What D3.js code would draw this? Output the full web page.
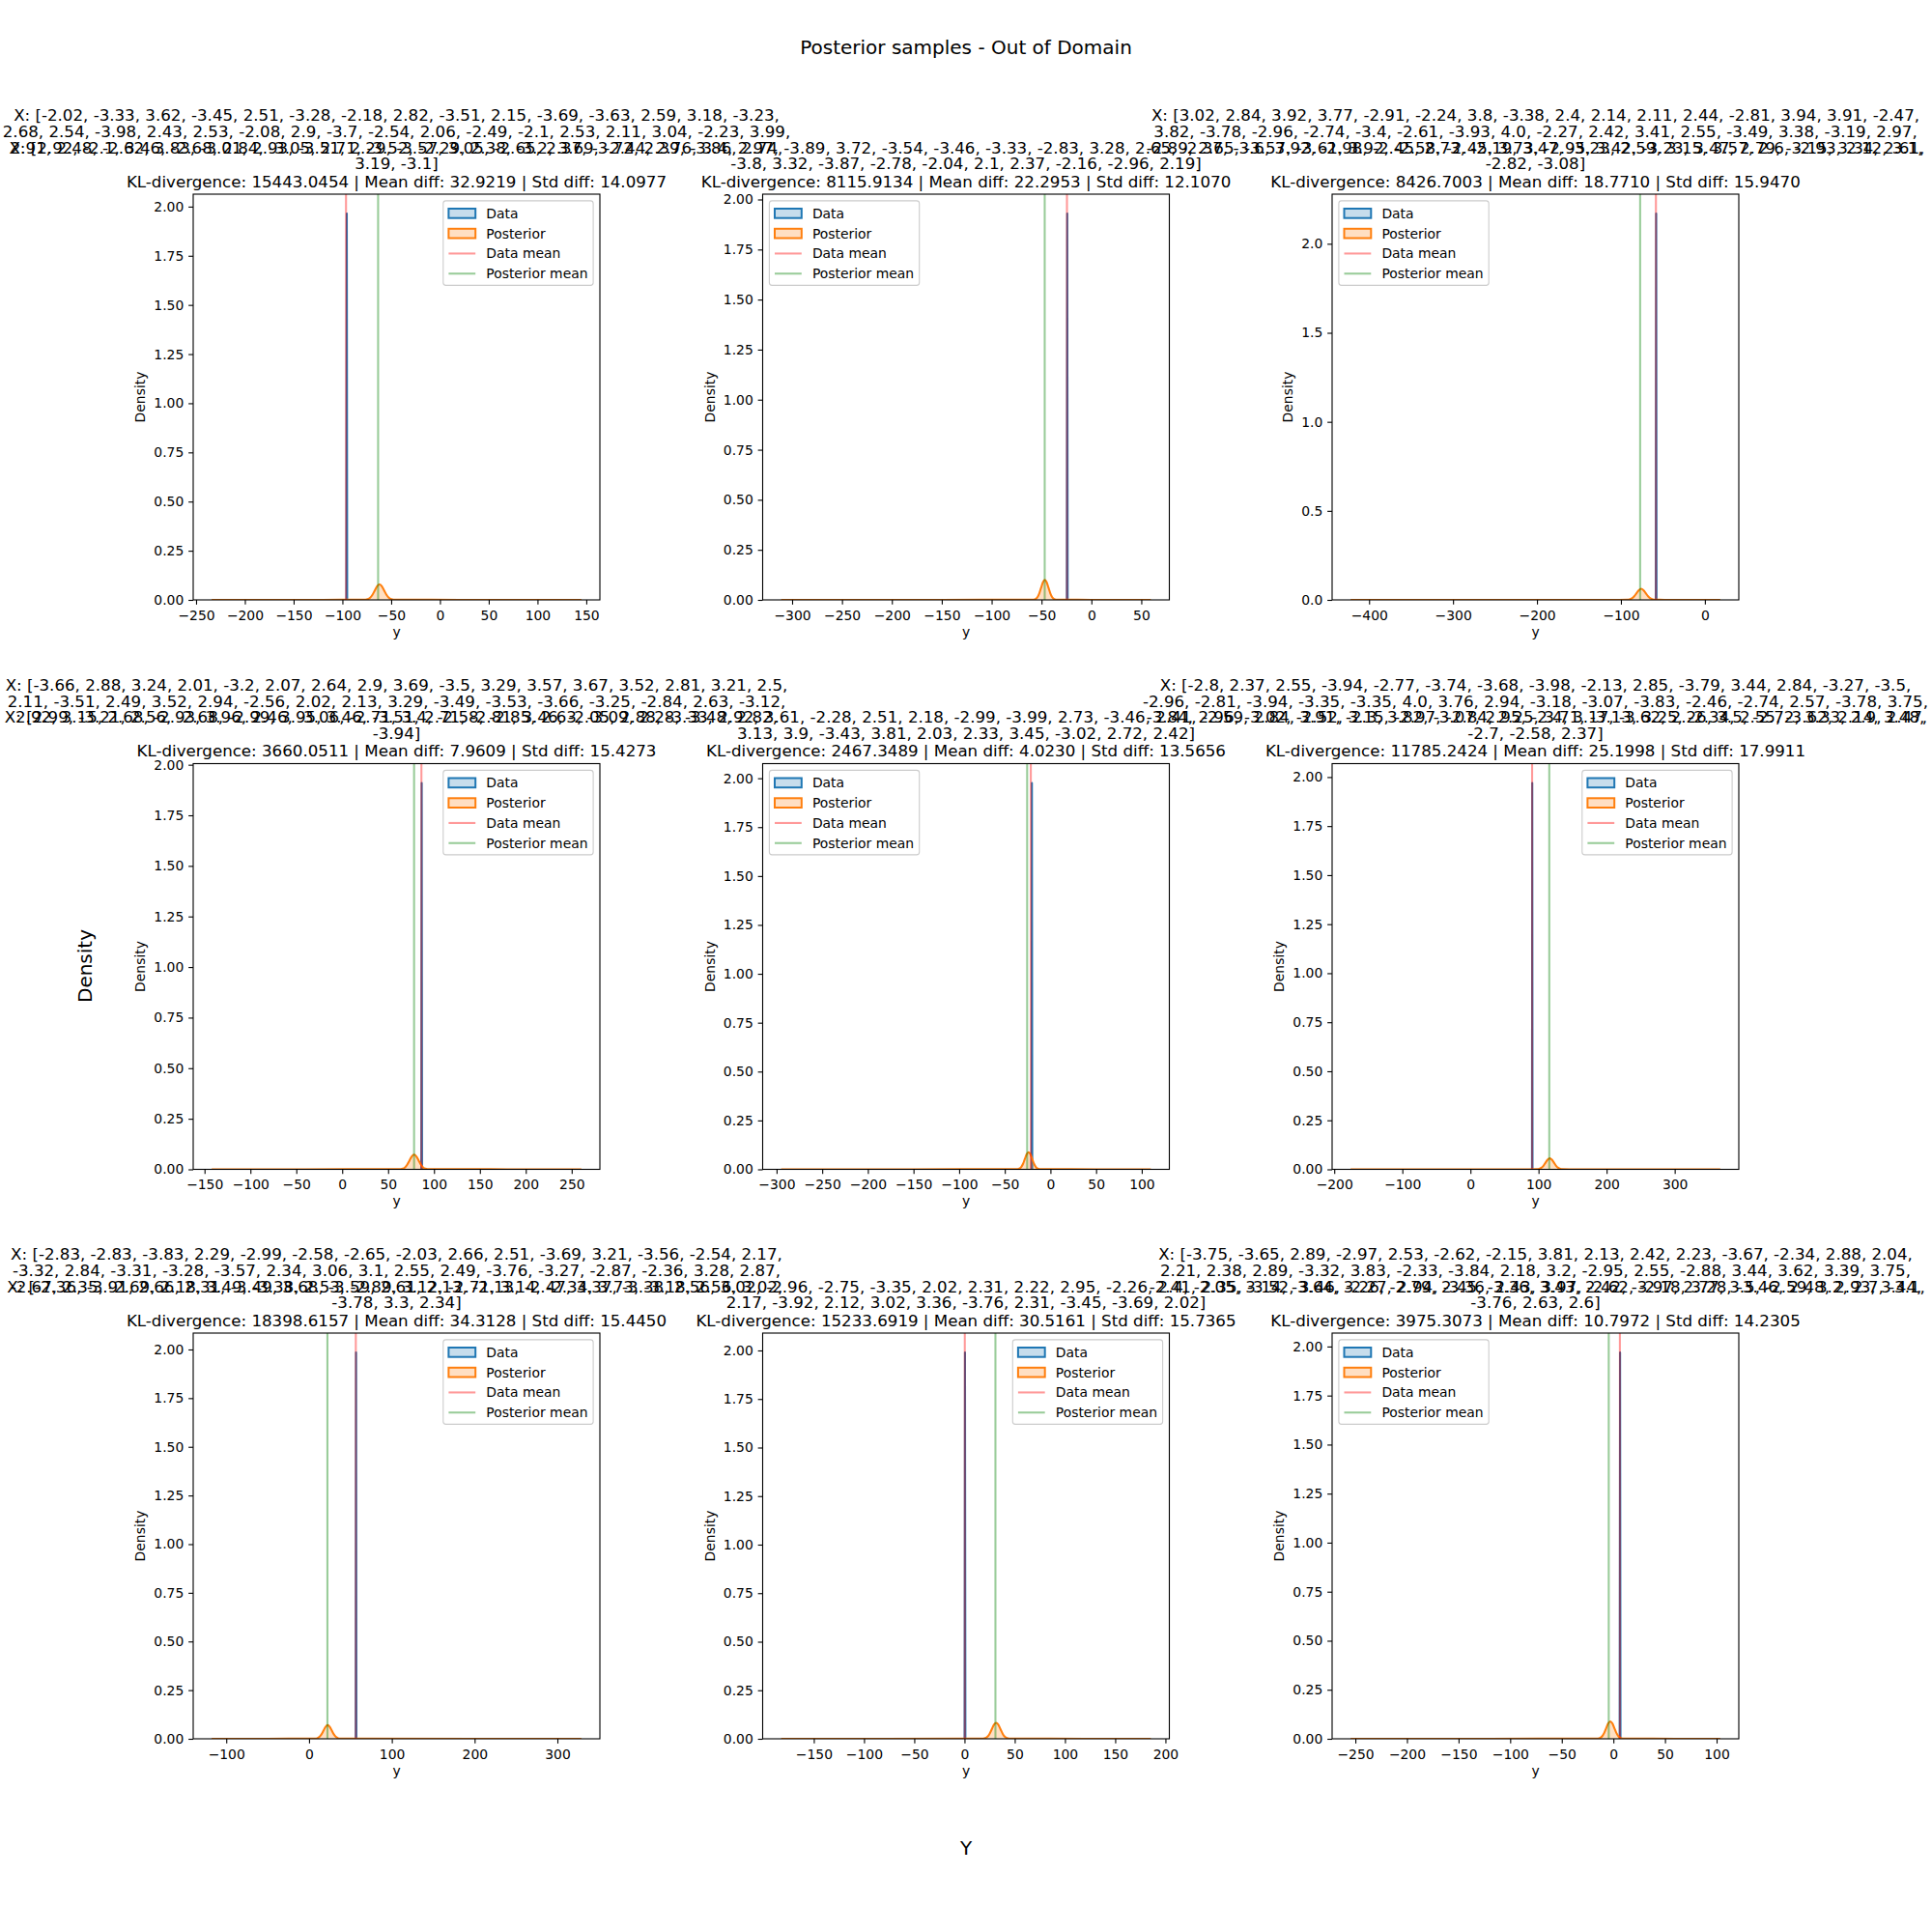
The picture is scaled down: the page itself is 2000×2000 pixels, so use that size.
<!DOCTYPE html>
<html><head><meta charset="utf-8">
<script src="https://cdn.jsdelivr.net/npm/d3@7"></script>
<style>
body{margin:0;background:#fff}
svg{display:block}
text{font-family:"DejaVu Sans",sans-serif}
</style>
</head><body>
<svg id="chart" width="2000" height="2000"></svg>
<script>
// ---------------- DATA ----------------
const figureTitle = "Posterior samples - Out of Domain";
const supXLabel = "Y";
const supYLabel = "Density";
const seriesNames = ["Data", "Posterior", "Data mean", "Posterior mean"];
const axisXLabel = "y";
const axisYLabel = "Density";

const titleS1 = [
  "X: [-2.02, -3.33, 3.62, -3.45, 2.51, -3.28, -2.18, 2.82, -3.51, 2.15, -3.69, -3.63, 2.59, 3.18, -3.23,",
  "2.68, 2.54, -3.98, 2.43, 2.53, -2.08, 2.9, -3.7, -2.54, 2.06, -2.49, -2.1, 2.53, 2.11, 3.04, -2.23, 3.99,",
  "2.91, 2.48, -2.62, 3.83, -3.01, 2.93, -3.51, 2.29, -3.57, 3.05, -2.65, 2.37, -3.72, 2.39, -3.86, 2.74,",
  "3.19, -3.1]"];
const titleS2 = [
  "X: [2.92, -2.1, 3.46, -2.68, 2.84, -3.05, 2.71, -3.52, -2.29, 2.38, -3.2, 3.69, -2.44, 2.76, 3.4, 2.97, -3.89, 3.72, -3.54, -3.46, -3.33, -2.83, 3.28, 2.65, -2.37, -3.6, 3.92, -2.98, -2.45, 2.73, -2.19, 3.47, -3.23, 2.59, 3.15, 3.57, 2.6, -2.93, 2.12, 3.1,",
  "-3.8, 3.32, -3.87, -2.78, -2.04, 2.1, 2.37, -2.16, -2.96, 2.19]"];
const titleS3 = [
  "X: [3.02, 2.84, 3.92, 3.77, -2.91, -2.24, 3.8, -3.38, 2.4, 2.14, 2.11, 2.44, -2.81, 3.94, 3.91, -2.47,",
  "3.82, -3.78, -2.96, -2.74, -3.4, -2.61, -3.93, 4.0, -2.27, 2.42, 3.41, 2.55, -3.49, 3.38, -3.19, 2.97,",
  "-2.89, 2.65, -3.57, -3.61, 3.92, -2.58, -2.45, 3.73, -2.95, 3.42, -3.23, 3.47, 2.79, -3.15, 3.34, 2.61,",
  "-2.82, -3.08]"];
const titleS4 = [
  "X: [-3.66, 2.88, 3.24, 2.01, -3.2, 2.07, 2.64, 2.9, 3.69, -3.5, 3.29, 3.57, 3.67, 3.52, 2.81, 3.21, 2.5,",
  "2.11, -3.51, 2.49, 3.52, 2.94, -2.56, 2.02, 2.13, 3.29, -3.49, -3.53, -3.66, -3.25, -2.84, 2.63, -3.12,",
  "2.92, 3.15, 2.68, -2.93, 3.96, 2.46, -3.06, -2.71, 3.4, -2.58, -2.85, 2.63, -3.09, 2.28, -3.48, 2.82,",
  "-3.94]"];
const titleS5 = [
  "X: [2.99, -3.21, 2.56, -2.68, -2.99, 3.95, 3.46, -3.51, 2.71, -2.81, 3.46, -2.05, 2.88, -3.33, 2.92, 3.61, -2.28, 2.51, 2.18, -2.99, -3.99, 2.73, -3.46, 2.41, -2.59, 2.84, 3.91, -2.3, 3.82, -3.07, 2.95, -2.4, 3.17, -3.62, 2.26, 3.5, -2.72, 3.33, 2.9, 2.47,",
  "3.13, 3.9, -3.43, 3.81, 2.03, 2.33, 3.45, -3.02, 2.72, 2.42]"];
const titleS6 = [
  "X: [-2.8, 2.37, 2.55, -3.94, -2.77, -3.74, -3.68, -3.98, -2.13, 2.85, -3.79, 3.44, 2.84, -3.27, -3.5,",
  "-2.96, -2.81, -3.94, -3.35, -3.35, 4.0, 3.76, 2.94, -3.18, -3.07, -3.83, -2.46, -2.74, 2.57, -3.78, 3.75,",
  "-3.84, 2.96, -3.02, -2.52, 3.15, -2.97, -2.84, 2.25, 3.71, -3.13, 3.25, -2.34, 2.55, -3.62, 2.14, 3.48,",
  "-2.7, -2.58, 2.37]"];
const titleS7 = [
  "X: [-2.83, -2.83, -3.83, 2.29, -2.99, -2.58, -2.65, -2.03, 2.66, 2.51, -3.69, 3.21, -3.56, -2.54, 2.17,",
  "-3.32, 2.84, -3.31, -3.28, -3.57, 2.34, 3.06, 3.1, 2.55, 2.49, -3.76, -3.27, -2.87, -2.36, 3.28, 2.87,",
  "-2.67, 2.35, -2.69, 2.18, 3.49, -3.38, 2.53, -2.89, 3.12, -2.71, 3.14, -2.34, 3.73, -3.18, 2.56, 3.02,",
  "-3.78, 3.3, 2.34]"];
const titleS8 = [
  "X: [-2.36, -3.91, 2.66, 2.31, -3.49, 3.68, -3.59, 2.61, 2.13, -2.13, -2.47, 3.37, -3.38, 2.56, 3.02, -2.96, -2.75, -3.35, 2.02, 2.31, 2.22, 2.95, -2.26, 2.4, -2.05, 3.14, -3.64, 3.26, -2.79, 2.45, -3.36, 3.43, 2.42, -3.97, 2.77, 3.5, -2.59, 3.2, 2.7, -3.1,",
  "2.17, -3.92, 2.12, 3.02, 3.36, -3.76, 2.31, -3.45, -3.69, 2.02]"];
const titleS9 = [
  "X: [-3.75, -3.65, 2.89, -2.97, 2.53, -2.62, -2.15, 3.81, 2.13, 2.42, 2.23, -3.67, -2.34, 2.88, 2.04,",
  "2.21, 2.38, 2.89, -3.32, 3.83, -2.33, -3.84, 2.18, 3.2, -2.95, 2.55, -2.88, 3.44, 3.62, 3.39, 3.75,",
  "-2.41, 2.35, -3.52, 3.46, -2.27, 2.94, -3.36, 2.43, 3.97, -2.62, -2.18, 3.28, -3.46, 2.48, 2.93, 3.44,",
  "-3.76, 2.63, 2.6]"];

const klDivergence = [15443.0454, 8115.9134, 8426.7003, 3660.0511, 2467.3489, 11785.2424, 18398.6157, 15233.6919, 3975.3073];
const meanDiff     = [32.9219, 22.2953, 18.7710, 7.9609, 4.0230, 25.1998, 34.3128, 30.5161, 10.7972];
const stdDiff      = [14.0977, 12.1070, 15.9470, 15.4273, 13.5656, 17.9911, 15.4450, 15.7365, 14.2305];

// data KDE spike (location, peak density)
const dataPeakX       = [-95.5, -24.2, -58.0, 86.6, -20.3, 90.8, 56.8, 0.5, 6.5];
const dataPeakDensity = [1.965, 1.93, 2.17, 1.91, 1.976, 1.97, 1.985, 1.99, 1.97];
const dataMeans       = [-96.3, -24.5, -58.3, 86.3, -21.5, 90.6, 56.5, 0.3, 6.3];
const posteriorMeans  = [-63.4, -46.8, -77.1, 78.3, -25.5, 115.8, 22.2, 30.8, -4.5];

// posterior KDE curves [y value, density]
const posteriorS1 = [[-234,0.0003],[-120,0.0004],[-85,0.0005],[-76.4,0.0009],[-74,0.0035],[-71.6,0.0107],[-69.2,0.0257],[-66.8,0.0479],[-64.4,0.0697],[-62,0.079],[-59.6,0.0697],[-57.2,0.0479],[-54.8,0.0257],[-52.4,0.0107],[-50,0.0035],[-47.6,0.0009],[-38,0.0005],[20,0.0004],[145,0.0003]];
const posteriorS2 = [[-311,0.0003],[-150,0.0004],[-66,0.0005],[-57.8,0.0011],[-55.95,0.0044],[-54.1,0.0135],[-52.25,0.0325],[-50.4,0.0607],[-48.55,0.0883],[-46.7,0.1],[-44.85,0.0883],[-43,0.0607],[-41.15,0.0325],[-39.3,0.0135],[-37.45,0.0044],[-35.6,0.0011],[-27,0.0005],[0,0.0004],[59.6,0.0003]];
const posteriorS3 = [[-422,0.0002],[-250,0.0003],[-102,0.0004],[-92.4,0.0007],[-89.65,0.0027],[-86.9,0.0084],[-84.15,0.0201],[-81.4,0.0376],[-78.65,0.0547],[-75.9,0.062],[-73.15,0.0547],[-70.4,0.0376],[-67.65,0.0201],[-64.9,0.0084],[-62.15,0.0027],[-59.4,0.0007],[-48,0.0004],[-10,0.0003],[18.4,0.0002]];
const posteriorS4 = [[-142.2,0.0003],[-40,0.0004],[54,0.0005],[63.6,0.0008],[66.05,0.0032],[68.5,0.0099],[70.95,0.0237],[73.4,0.0443],[75.85,0.0644],[78.3,0.073],[80.75,0.0644],[83.2,0.0443],[85.65,0.0237],[88.1,0.0099],[90.55,0.0032],[93,0.0008],[103,0.0005],[180,0.0004],[260.6,0.0003]];
const posteriorS5 = [[-295,0.0003],[-150,0.0004],[-45,0.0005],[-36,0.001],[-34,0.0039],[-32,0.0119],[-30,0.0286],[-28,0.0534],[-26,0.0777],[-24,0.088],[-22,0.0777],[-20,0.0534],[-18,0.0286],[-16,0.0119],[-14,0.0039],[-12,0.001],[-3,0.0005],[50,0.0004],[110,0.0003]];
const posteriorS6 = [[-176,0.0002],[0,0.0003],[86,0.0004],[97.9,0.0006],[101,0.0025],[104.1,0.0076],[107.2,0.0182],[110.3,0.034],[113.4,0.0494],[116.5,0.056],[119.6,0.0494],[122.7,0.034],[125.8,0.0182],[128.9,0.0076],[132,0.0025],[135.1,0.0006],[147,0.0004],[250,0.0003],[367,0.0002]];
const posteriorS7 = [[-117.6,0.0003],[-50,0.0004],[-3,0.0005],[7.5,0.0008],[10,0.0031],[12.5,0.0095],[15,0.0227],[17.5,0.0425],[20,0.0618],[22.5,0.07],[25,0.0618],[27.5,0.0425],[30,0.0227],[32.5,0.0095],[35,0.0031],[37.5,0.0008],[48,0.0005],[200,0.0004],[329,0.0003]];
const posteriorS8 = [[-182.5,0.0003],[-80,0.0004],[8,0.0005],[18.6,0.0009],[20.75,0.0036],[22.9,0.0111],[25.05,0.0266],[27.2,0.0497],[29.35,0.0724],[31.5,0.082],[33.65,0.0724],[35.8,0.0497],[37.95,0.0266],[40.1,0.0111],[42.25,0.0036],[44.4,0.0009],[54,0.0005],[120,0.0004],[185.5,0.0003]];
const posteriorS9 = [[-254.6,0.0003],[-120,0.0004],[-25,0.0005],[-15,0.001],[-13,0.0039],[-11,0.0121],[-9,0.0289],[-7,0.054],[-5,0.0785],[-3,0.089],[-1,0.0785],[1,0.054],[3,0.0289],[5,0.0121],[7,0.0039],[9,0.001],[19,0.0005],[60,0.0004],[103.6,0.0003]];

const xTickLabels = [
  [-250,-200,-150,-100,-50,0,50,100,150],
  [-300,-250,-200,-150,-100,-50,0,50],
  [-400,-300,-200,-100,0],
  [-150,-100,-50,0,50,100,150,200,250],
  [-300,-250,-200,-150,-100,-50,0,50,100],
  [-200,-100,0,100,200,300],
  [-100,0,100,200,300],
  [-150,-100,-50,0,50,100,150,200],
  [-250,-200,-150,-100,-50,0,50,100]
];
const yTicksQuarter = [0,0.25,0.5,0.75,1.0,1.25,1.5,1.75,2.0];
const yTicksHalf = [0,0.5,1.0,1.5,2.0];
const yTickLabels = [yTicksQuarter, yTicksQuarter, yTicksHalf, yTicksQuarter, yTicksQuarter, yTicksQuarter, yTicksQuarter, yTicksQuarter, yTicksQuarter];

const subplotTitles = [titleS1,titleS2,titleS3,titleS4,titleS5,titleS6,titleS7,titleS8,titleS9];
const posteriorCurves = [posteriorS1,posteriorS2,posteriorS3,posteriorS4,posteriorS5,posteriorS6,posteriorS7,posteriorS8,posteriorS9];

// ---------------- LAYOUT / STYLE ----------------
const legendSide = ["right","left","left","right","left","right","right","right","left"];
const colLeft = [200, 789.5, 1379];
const rowTop = [201, 790.5, 1380];
const axW = 421, axH = 420;
const C_BLUE = "#1f77b4", C_ORANGE = "#ff7f0e";
const FS = 13.9, TFS = 16.67, SFS = 20;
const TICK = 4.86, PAD = 4.86;

const svg = d3.select("#chart");
svg.append("rect").attr("width",2000).attr("height",2000).attr("fill","#fff");
const defs = svg.append("defs");

svg.append("text").attr("x",1000).attr("y",55.5).attr("text-anchor","middle")
  .attr("font-size",SFS).text(figureTitle);
svg.append("text").attr("x",1000).attr("y",1920).attr("text-anchor","middle")
  .attr("font-size",SFS).text(supXLabel);
svg.append("text").attr("transform","translate(95,1000) rotate(-90)").attr("text-anchor","middle")
  .attr("font-size",SFS).text(supYLabel);

const fmtInt = d3.format("d");

subplotTitles.forEach((lines, i) => {
  const r = Math.floor(i/3), c = i % 3;
  const L = colLeft[c], T = rowTop[r];
  const post = posteriorCurves[i];
  const lo = d3.min(post, d => d[0]), hi = d3.max(post, d => d[0]);
  const R = hi - lo;
  const x = d3.scaleLinear().domain([lo - 0.05*R, hi + 0.05*R]).range([L, L + axW]);
  const yMax = 1.05 * Math.max(dataPeakDensity[i], d3.max(post, d => d[1]));
  const y = d3.scaleLinear().domain([0, yMax]).range([T + axH, T]);

  const g = svg.append("g");
  const clipId = "clip" + i;
  defs.append("clipPath").attr("id", clipId).append("rect")
    .attr("x", L).attr("y", T).attr("width", axW).attr("height", axH);
  const plot = g.append("g").attr("clip-path", `url(#${clipId})`);

  // data KDE spike
  const xs = dataPeakX[i], h = dataPeakDensity[i];
  const dataCurve = [[xs - 0.4, 0], [xs, h], [xs + 0.4, 0]];
  const area = d3.area().x(d => x(d[0])).y0(y(0)).y1(d => y(d[1]));
  const line = d3.line().x(d => x(d[0])).y(d => y(d[1]));
  plot.append("path").datum(dataCurve).attr("d", area).attr("fill", C_BLUE).attr("fill-opacity", 0.25);
  plot.append("path").datum(dataCurve).attr("d", line).attr("fill", "none")
    .attr("stroke", C_BLUE).attr("stroke-width", 2.08).attr("stroke-linejoin","round");

  // posterior KDE
  const areaS = d3.area().x(d => x(d[0])).y0(y(0)).y1(d => y(d[1])).curve(d3.curveMonotoneX);
  const lineS = d3.line().x(d => x(d[0])).y(d => y(d[1])).curve(d3.curveMonotoneX);
  plot.append("path").datum(post).attr("d", areaS).attr("fill", C_ORANGE).attr("fill-opacity", 0.25);
  plot.append("path").datum(post).attr("d", lineS).attr("fill", "none")
    .attr("stroke", C_ORANGE).attr("stroke-width", 2.08);

  // mean lines
  plot.append("line").attr("x1", x(dataMeans[i])).attr("x2", x(dataMeans[i]))
    .attr("y1", T).attr("y2", T + axH).attr("stroke", "red").attr("stroke-opacity", 0.4).attr("stroke-width", 2.08);
  plot.append("line").attr("x1", x(posteriorMeans[i])).attr("x2", x(posteriorMeans[i]))
    .attr("y1", T).attr("y2", T + axH).attr("stroke", "green").attr("stroke-opacity", 0.4).attr("stroke-width", 2.08);

  // spines
  g.append("rect").attr("x", L).attr("y", T).attr("width", axW).attr("height", axH)
    .attr("fill", "none").attr("stroke", "#000").attr("stroke-width", 1.11);

  // axes
  const xAxis = d3.axisBottom(x).tickValues(xTickLabels[i]).tickFormat(fmtInt)
    .tickSize(TICK).tickPadding(PAD);
  const gx = g.append("g").attr("transform", `translate(0,${T + axH})`).call(xAxis);
  const yFmt = (i === 2) ? d3.format(".1f") : d3.format(".2f");
  const yAxis = d3.axisLeft(y).tickValues(yTickLabels[i]).tickFormat(yFmt)
    .tickSize(TICK).tickPadding(PAD);
  const gy = g.append("g").attr("transform", `translate(${L},0)`).call(yAxis);
  [gx, gy].forEach(a => {
    a.select(".domain").remove();
    a.selectAll(".tick line").attr("stroke", "#000").attr("stroke-width", 1.11);
    a.selectAll(".tick text").attr("fill", "#000").attr("font-size", FS)
      .attr("font-family", '"DejaVu Sans", sans-serif');
  });
  gx.selectAll(".tick text").attr("dy", "0.78em");

  // axis labels
  g.append("text").attr("x", L + axW/2).attr("y", T + axH + 37.5).attr("text-anchor", "middle")
    .attr("font-size", FS).text(axisXLabel);
  let minX = Infinity;
  gy.selectAll(".tick text").each(function(){ const b = this.getBBox(); minX = Math.min(minX, L + b.x); });
  const labX = minX - 5.56 - 3.3;
  g.append("text").attr("transform", `translate(${labX},${T + axH/2}) rotate(-90)`)
    .attr("text-anchor", "middle").attr("font-size", FS).text(axisYLabel);

  // title
  const klText = `KL-divergence: ${klDivergence[i].toFixed(4)} | Mean diff: ${meanDiff[i].toFixed(4)} | Std diff: ${stdDiff[i].toFixed(4)}`;
  const cx = L + axW/2;
  const klY = T - 7.5;
  g.append("text").attr("x", cx).attr("y", klY).attr("text-anchor", "middle").attr("font-size", TFS).text(klText);
  lines.forEach((ln, k) => {
    const yy = klY - 18.3 - (lines.length - 1 - k) * 16.6;
    g.append("text").attr("x", cx).attr("y", yy).attr("text-anchor", "middle").attr("font-size", TFS).text(ln);
  });

  // legend
  const lg = g.append("g");
  const items = lg.append("g");
  const rowH = 20.8, padB = 5.6, handleW = 27.8, gap = 11.1;
  let maxTW = 0;
  seriesNames.forEach((name, k) => {
    const t = items.append("text").attr("font-size", FS).text(name);
    maxTW = Math.max(maxTW, t.node().getComputedTextLength());
  });
  const boxW = 2*padB + handleW + gap + maxTW;
  const boxH = 2*padB + 4*FS + 3*6.9;
  const bx = legendSide[i] === "right" ? (L + axW - 6.9 - boxW) : (L + 6.9);
  const by = T + 6.9;
  lg.insert("rect", ":first-child").attr("x", bx).attr("y", by).attr("width", boxW).attr("height", boxH)
    .attr("rx", 2.8).attr("fill", "#fff").attr("fill-opacity", 0.8).attr("stroke", "#cccccc").attr("stroke-width", 1.1);
  const hx = bx + padB;
  items.selectAll("text").each(function(d, k){
    const cy = by + padB + FS/2 + k*rowH + 0.4;
    d3.select(this).attr("x", hx + handleW + gap).attr("y", cy + 4.9);
    if (k < 2) {
      const col = k === 0 ? C_BLUE : C_ORANGE;
      items.append("rect").attr("x", hx).attr("y", cy - 4.85).attr("width", handleW).attr("height", 9.7)
        .attr("fill", col).attr("fill-opacity", 0.25).attr("stroke", col).attr("stroke-width", 2);
    } else {
      const col = k === 2 ? "red" : "green";
      items.append("line").attr("x1", hx).attr("x2", hx + handleW).attr("y1", cy).attr("y2", cy)
        .attr("stroke", col).attr("stroke-opacity", 0.4).attr("stroke-width", 2.08);
    }
  });
});
</script>
</body></html>
